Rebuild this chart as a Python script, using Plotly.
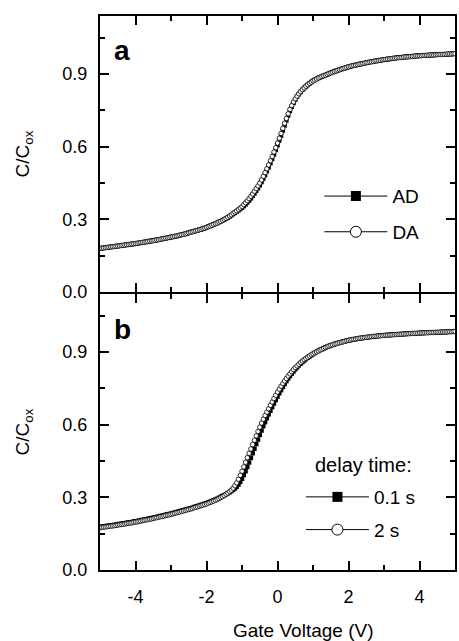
import numpy as np
import plotly.graph_objects as go

# Gate-voltage sweep (uniform measurement grid, 0.05 V step)
gate_v = np.linspace(-5, 5, 201)

# Panel a: sweep direction
c_ad = [
    0.180,0.181,0.182,0.183,0.184,0.185,0.186,0.187,0.188,0.189,
    0.190,0.191,0.192,0.193,0.194,0.195,0.196,0.197,0.198,0.199,
    0.200,0.201,0.203,0.204,0.205,0.206,0.207,0.209,0.210,0.211,
    0.212,0.214,0.215,0.216,0.218,0.219,0.221,0.222,0.224,0.225,
    0.227,0.228,0.230,0.231,0.233,0.235,0.237,0.238,0.240,0.242,
    0.245,0.247,0.249,0.251,0.253,0.255,0.257,0.259,0.262,0.264,
    0.267,0.270,0.273,0.276,0.279,0.282,0.285,0.289,0.292,0.296,
    0.299,0.303,0.307,0.312,0.317,0.322,0.327,0.332,0.337,0.343,
    0.348,0.355,0.362,0.370,0.378,0.387,0.397,0.407,0.418,0.429,
    0.441,0.454,0.468,0.483,0.499,0.515,0.532,0.550,0.568,0.587,
    0.606,0.626,0.646,0.667,0.688,0.709,0.729,0.748,0.765,0.781,
    0.795,0.807,0.817,0.826,0.835,0.842,0.849,0.855,0.861,0.867,
    0.872,0.876,0.880,0.884,0.887,0.890,0.893,0.896,0.899,0.902,
    0.905,0.908,0.911,0.913,0.916,0.918,0.921,0.923,0.925,0.928,
    0.930,0.932,0.934,0.936,0.937,0.939,0.941,0.942,0.944,0.945,
    0.947,0.948,0.950,0.951,0.952,0.954,0.955,0.956,0.957,0.959,
    0.960,0.961,0.962,0.963,0.964,0.965,0.966,0.967,0.968,0.968,
    0.969,0.970,0.971,0.971,0.972,0.973,0.973,0.974,0.975,0.975,
    0.976,0.976,0.977,0.977,0.978,0.978,0.979,0.979,0.979,0.980,
    0.980,0.981,0.981,0.981,0.982,0.982,0.983,0.983,0.983,0.984,
    0.984,
]
c_da = [
    0.180,0.181,0.182,0.183,0.184,0.185,0.186,0.187,0.188,0.189,
    0.190,0.191,0.192,0.193,0.194,0.195,0.196,0.197,0.198,0.199,
    0.200,0.201,0.203,0.204,0.205,0.206,0.207,0.209,0.210,0.211,
    0.212,0.214,0.215,0.216,0.218,0.219,0.221,0.222,0.224,0.225,
    0.227,0.228,0.230,0.231,0.233,0.235,0.237,0.238,0.240,0.242,
    0.245,0.247,0.249,0.251,0.253,0.255,0.257,0.259,0.262,0.264,
    0.267,0.270,0.273,0.276,0.279,0.282,0.285,0.289,0.292,0.296,
    0.300,0.304,0.309,0.314,0.319,0.325,0.330,0.335,0.341,0.347,
    0.353,0.361,0.369,0.377,0.386,0.395,0.405,0.416,0.427,0.438,
    0.450,0.463,0.478,0.493,0.509,0.525,0.542,0.560,0.578,0.596,
    0.615,0.635,0.655,0.676,0.697,0.717,0.736,0.754,0.770,0.785,
    0.798,0.809,0.819,0.828,0.836,0.843,0.850,0.856,0.862,0.867,
    0.872,0.876,0.880,0.884,0.887,0.890,0.893,0.896,0.899,0.902,
    0.905,0.908,0.911,0.913,0.916,0.918,0.921,0.923,0.925,0.928,
    0.930,0.932,0.934,0.936,0.937,0.939,0.941,0.942,0.944,0.945,
    0.947,0.948,0.950,0.951,0.952,0.954,0.955,0.956,0.957,0.959,
    0.960,0.961,0.962,0.963,0.964,0.965,0.966,0.967,0.968,0.968,
    0.969,0.970,0.971,0.971,0.972,0.973,0.973,0.974,0.975,0.975,
    0.976,0.976,0.977,0.977,0.978,0.978,0.979,0.979,0.979,0.980,
    0.980,0.981,0.981,0.981,0.982,0.982,0.983,0.983,0.983,0.984,
    0.984,
]

# Panel b: delay time
c_delay_01s = [
    0.178,0.179,0.180,0.181,0.182,0.183,0.184,0.185,0.186,0.187,
    0.189,0.190,0.191,0.192,0.193,0.195,0.196,0.197,0.198,0.200,
    0.201,0.202,0.204,0.205,0.207,0.208,0.210,0.211,0.213,0.214,
    0.216,0.218,0.219,0.221,0.223,0.224,0.226,0.228,0.230,0.231,
    0.233,0.235,0.237,0.239,0.241,0.243,0.245,0.247,0.249,0.251,
    0.253,0.255,0.257,0.260,0.262,0.264,0.267,0.269,0.271,0.274,
    0.276,0.279,0.282,0.285,0.288,0.291,0.294,0.298,0.302,0.306,
    0.309,0.313,0.317,0.321,0.326,0.331,0.337,0.344,0.353,0.364,
    0.377,0.392,0.408,0.426,0.444,0.463,0.482,0.501,0.520,0.539,
    0.558,0.576,0.594,0.611,0.627,0.643,0.658,0.673,0.688,0.702,
    0.716,0.730,0.743,0.756,0.768,0.780,0.791,0.801,0.811,0.820,
    0.829,0.837,0.845,0.852,0.859,0.865,0.871,0.877,0.882,0.887,
    0.892,0.897,0.901,0.905,0.909,0.912,0.916,0.919,0.922,0.925,
    0.928,0.930,0.933,0.935,0.937,0.939,0.941,0.943,0.945,0.947,
    0.949,0.950,0.952,0.953,0.954,0.956,0.957,0.958,0.959,0.960,
    0.961,0.962,0.963,0.964,0.965,0.965,0.966,0.967,0.968,0.968,
    0.969,0.970,0.970,0.971,0.971,0.972,0.972,0.973,0.973,0.974,
    0.974,0.975,0.975,0.976,0.976,0.977,0.977,0.977,0.978,0.978,
    0.979,0.979,0.979,0.980,0.980,0.980,0.981,0.981,0.981,0.982,
    0.982,0.982,0.983,0.983,0.983,0.983,0.984,0.984,0.984,0.985,
    0.985,
]
c_delay_2s = [
    0.175,0.176,0.177,0.178,0.179,0.180,0.181,0.182,0.183,0.184,
    0.186,0.187,0.188,0.189,0.190,0.192,0.193,0.194,0.195,0.197,
    0.198,0.199,0.201,0.202,0.204,0.205,0.207,0.208,0.210,0.211,
    0.213,0.215,0.216,0.218,0.220,0.221,0.223,0.225,0.227,0.228,
    0.230,0.232,0.234,0.236,0.238,0.240,0.242,0.244,0.246,0.248,
    0.250,0.252,0.254,0.257,0.259,0.261,0.264,0.266,0.268,0.271,
    0.273,0.276,0.279,0.282,0.285,0.288,0.291,0.295,0.299,0.303,
    0.308,0.313,0.318,0.324,0.330,0.338,0.348,0.360,0.375,0.391,
    0.408,0.426,0.445,0.464,0.482,0.500,0.518,0.536,0.554,0.572,
    0.590,0.607,0.623,0.638,0.652,0.666,0.680,0.694,0.708,0.722,
    0.735,0.747,0.759,0.770,0.781,0.791,0.801,0.810,0.819,0.828,
    0.836,0.843,0.850,0.857,0.863,0.869,0.874,0.879,0.884,0.889,
    0.893,0.897,0.901,0.905,0.909,0.912,0.916,0.919,0.922,0.925,
    0.928,0.930,0.933,0.935,0.937,0.939,0.941,0.943,0.945,0.947,
    0.949,0.950,0.952,0.953,0.954,0.956,0.957,0.958,0.959,0.960,
    0.961,0.962,0.963,0.964,0.965,0.965,0.966,0.967,0.968,0.968,
    0.969,0.970,0.970,0.971,0.971,0.972,0.972,0.973,0.973,0.974,
    0.974,0.975,0.975,0.976,0.976,0.977,0.977,0.977,0.978,0.978,
    0.979,0.979,0.979,0.980,0.980,0.980,0.981,0.981,0.981,0.982,
    0.982,0.982,0.983,0.983,0.983,0.983,0.984,0.984,0.984,0.985,
    0.985,
]

legend_a = ["AD", "DA"]
legend_b = ["0.1 s", "2 s"]
legend_b_title = "delay time:"
panel_labels = ["a", "b"]
x_tick_vals = [-4, -2, 0, 2, 4]
x_tick_text = ["-4", "-2", "0", "2", "4"]
x_title = "Gate Voltage (V)"
y_title = "C/C<sub>ox</sub>"

FONT = "Liberation Sans, Arial, sans-serif"
PLOT_H = 554.0
GAP = 2.0 / PLOT_H  # so the two 2px axis lines coincide in the middle

sq = dict(symbol="square", size=4.5, color="black", line=dict(width=0))
circ = dict(symbol="circle", size=4.5, color="white", line=dict(width=0.8, color="black"))

fig = go.Figure()
fig.add_trace(go.Scatter(x=gate_v, y=c_ad, mode="markers", marker=sq,
                         xaxis="x", yaxis="y", showlegend=False))
fig.add_trace(go.Scatter(x=gate_v, y=c_da, mode="markers", marker=circ,
                         xaxis="x", yaxis="y", showlegend=False))
fig.add_trace(go.Scatter(x=gate_v, y=c_delay_01s, mode="markers", marker=sq,
                         xaxis="x2", yaxis="y2", showlegend=False))
fig.add_trace(go.Scatter(x=gate_v, y=c_delay_2s, mode="markers", marker=circ,
                         xaxis="x2", yaxis="y2", showlegend=False))

# legend keys
lg_sq = dict(symbol="square", size=10, color="black", line=dict(width=0))
lg_ci = dict(symbol="circle", size=11, color="white", line=dict(width=1, color="black"))
for name, mk, lg, grp in [(legend_a[0], lg_sq, "legend", "a1"), (legend_a[1], lg_ci, "legend", "a2"),
                          (legend_b[0], lg_sq, "legend2", "b1"), (legend_b[1], lg_ci, "legend2", "b2")]:
    fig.add_trace(go.Scatter(x=[None], y=[None], mode="lines+markers", name=name,
                             marker=mk, line=dict(color="black", width=1),
                             legend=lg, legendgroup=grp,
                             xaxis="x" if lg == "legend" else "x2",
                             yaxis="y" if lg == "legend" else "y2"))

axis_common = dict(showline=True, linewidth=2, linecolor="black", mirror="ticks",
                   ticks="inside", ticklen=9, tickwidth=1.5, tickcolor="black",
                   showgrid=False, zeroline=False,
                   tickfont=dict(family=FONT, size=18, color="black"))
xcommon = dict(axis_common, range=[-5, 5], tickmode="array",
               tickvals=x_tick_vals, ticktext=x_tick_text,
               minor=dict(ticks="inside", ticklen=5, tickwidth=1.5, tickcolor="black",
                          tick0=0, dtick=1, showgrid=False))
ycommon = dict(axis_common, range=[0, 1.14], tick0=0, dtick=0.3, tickformat=".1f",
               minor=dict(ticks="inside", ticklen=5, tickwidth=1.5, tickcolor="black",
                          tick0=0, dtick=0.15, showgrid=False),
               ticklabelstandoff=7,
               title=dict(text=y_title, font=dict(family=FONT, size=19, color="black"), standoff=28))

legend_font = dict(family=FONT, size=19, color="black")

fig.update_layout(
    width=459, height=641,
    margin=dict(l=100, r=2, t=16, b=71),
    paper_bgcolor="white", plot_bgcolor="white",
    font=dict(family=FONT, size=18, color="black"),
    xaxis=dict(xcommon, domain=[0, 1], anchor="y", showticklabels=False),
    yaxis=dict(ycommon, domain=[0.5 + GAP / 2, 1], anchor="x"),
    xaxis2=dict(xcommon, domain=[0, 1], anchor="y2", matches="x", ticklabelstandoff=9),
    yaxis2=dict(ycommon, domain=[0, 0.5 - GAP / 2], anchor="x2"),
    legend=dict(x=0.618, y=0.709, xanchor="left", yanchor="top", bgcolor="rgba(0,0,0,0)",
                itemwidth=63, tracegroupgap=8, traceorder="grouped", font=legend_font),
    legend2=dict(x=0.566, y=0.166, xanchor="left", yanchor="top", bgcolor="rgba(0,0,0,0)",
                 itemwidth=63, tracegroupgap=5, traceorder="grouped", font=legend_font),
    showlegend=True,
    annotations=[
        dict(text="<b>%s</b>" % panel_labels[0], x=0.035, y=0.937, xref="paper", yref="paper",
             xanchor="left", yanchor="middle", showarrow=False,
             font=dict(family=FONT, size=28, color="black")),
        dict(text="<b>%s</b>" % panel_labels[1], x=0.033, y=0.434, xref="paper", yref="paper",
             xanchor="left", yanchor="middle", showarrow=False,
             font=dict(family=FONT, size=28, color="black")),
        dict(text=legend_b_title, x=0.6, y=0.1895, xref="paper", yref="paper",
             xanchor="left", yanchor="middle", showarrow=False,
             font=dict(family=FONT, size=20, color="black")),
        dict(text=x_title, x=0.571, y=-0.11, xref="paper", yref="paper",
             xanchor="center", yanchor="middle", showarrow=False,
             font=dict(family=FONT, size=19, color="black")),
    ],
)

fig.write_html("out.html")
